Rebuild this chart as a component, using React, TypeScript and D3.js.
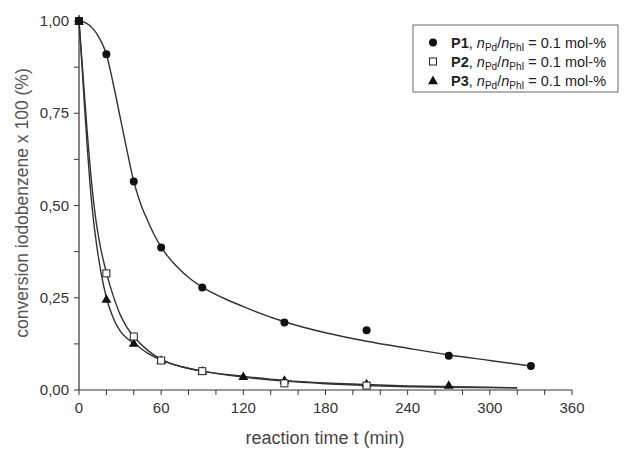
import React from "react";
import * as d3 from "d3";

// ---- measured data points ----
const p1Time = [0, 20, 40, 60, 90, 150, 210, 270, 330];
const p1Conv = [1.0, 0.91, 0.565, 0.386, 0.278, 0.183, 0.162, 0.093, 0.065];

const p2Time = [0, 20, 40, 60, 90, 150, 210];
const p2Conv = [1.0, 0.316, 0.145, 0.08, 0.051, 0.018, 0.012];

const p3Time = [0, 20, 40, 60, 90, 120, 150, 210, 270];
const p3Conv = [1.0, 0.246, 0.127, 0.081, 0.052, 0.037, 0.027, 0.017, 0.013];

// ---- fitted curves ----
const fit1Time = [0, 5, 10, 15, 20, 25, 30, 35, 40, 45, 50, 55, 60, 70, 80, 90, 105, 120, 150, 180, 210, 240, 270, 300, 330];
const fit1Conv = [1.0, 0.995, 0.98, 0.953, 0.91, 0.83, 0.74, 0.65, 0.565, 0.505, 0.46, 0.42, 0.387, 0.34, 0.305, 0.279, 0.25, 0.226, 0.185, 0.155, 0.132, 0.113, 0.095, 0.08, 0.065];

const fit2Time = [0, 3, 6, 9, 12, 15, 20, 25, 30, 35, 40, 50, 60, 75, 90, 120, 150, 180, 210, 240, 270, 320];
const fit2Conv = [1.0, 0.85, 0.7, 0.57, 0.47, 0.4, 0.318, 0.255, 0.205, 0.17, 0.145, 0.108, 0.083, 0.063, 0.051, 0.035, 0.024, 0.017, 0.012, 0.009, 0.0075, 0.006];

const fit3Time = [0, 2, 4, 6, 8, 10, 13, 16, 20, 25, 30, 35, 40, 50, 60, 75, 90, 120, 150, 180, 210, 240, 270, 320];
const fit3Conv = [1.0, 0.89, 0.77, 0.66, 0.56, 0.48, 0.39, 0.32, 0.25, 0.195, 0.16, 0.14, 0.127, 0.1, 0.081, 0.063, 0.051, 0.037, 0.026, 0.019, 0.015, 0.011, 0.009, 0.006];

const xTickValues = [0, 60, 120, 180, 240, 300, 360];
const yTickValues = [0, 0.25, 0.5, 0.75, 1.0];

const xTitle = "reaction time t (min)";
const yTitle = "conversion iodobenzene x 100 (%)";
const legendNames = ["P1", "P2", "P3"];

const W = 631;
const H = 450;
const axisColor = "#333";
const textColor = "#333";
const font = "Liberation Sans, Arial, sans-serif";

export default function App() {
  const x = d3.scaleLinear().domain([0, 360]).range([79, 572]);
  const y = d3.scaleLinear().domain([0, 1]).range([390, 21]);

  const line = d3
    .line<[number, number]>()
    .x((d) => x(d[0]))
    .y((d) => y(d[1]))
    .curve(d3.curveMonotoneX);

  const zip = (a: number[], b: number[]) => a.map((t, i) => [t, b[i]] as [number, number]);

  const minorX = d3.range(0, 361, 20);
  const minorY = d3.range(0, 1.0001, 0.125);
  const fmt = (v: number) => v.toFixed(2).replace(".", ",");

  const tri = d3.symbol().type(d3.symbolTriangle).size(42)() as string;

  const legendRowsY = [43, 62, 81];
  const legendX = 433;

  const marker = (k: number, cx: number, cy: number, key: string) => {
    if (k === 0) return <circle key={key} cx={cx} cy={cy} r={4} fill="#111" />;
    if (k === 1)
      return <rect key={key} x={cx - 3.5} y={cy - 3.5} width={7} height={7} fill="#fff" stroke="#222" strokeWidth={1} />;
    return <path key={key} d={tri} transform={`translate(${cx},${cy + 0.8})`} fill="#111" />;
  };

  return (
    <svg
      width={W}
      height={H}
      style={{ position: "absolute", left: 0, top: 0, background: "#fff" }}
      fontFamily={font}
    >
      <rect x={0} y={0} width={W} height={H} fill="#fff" />
      {/* axes */}
      <line x1={x(0)} x2={x(360)} y1={y(0)} y2={y(0)} stroke={axisColor} strokeWidth={1.2} />
      <line x1={x(0)} x2={x(0)} y1={y(0)} y2={y(1) - 6} stroke={axisColor} strokeWidth={1.2} />
      {minorX.map((t) => (
        <line key={"xt" + t} x1={x(t)} x2={x(t)} y1={y(0)} y2={y(0) + 5} stroke={axisColor} strokeWidth={1} />
      ))}
      {minorY.map((v) => (
        <line key={"yt" + v} x1={x(0) - 5} x2={x(0)} y1={y(v)} y2={y(v)} stroke={axisColor} strokeWidth={1} />
      ))}
      {xTickValues.map((t) => (
        <text key={"xl" + t} x={x(t)} y={413} textAnchor="middle" fontSize={15} fill={textColor}>
          {t}
        </text>
      ))}
      {yTickValues.map((v) => (
        <text key={"yl" + v} x={69} y={y(v) + 5} textAnchor="end" fontSize={15} fill={textColor}>
          {fmt(v)}
        </text>
      ))}
      <text x={325} y={444} textAnchor="middle" fontSize={18} fill="#444">
        {xTitle}
      </text>
      <text
        transform={`translate(28,203) rotate(-90)`}
        textAnchor="middle"
        fontSize={17.5}
        fill="#555"
      >
        {yTitle}
      </text>

      {/* fitted curves */}
      <path d={line(zip(fit2Time, fit2Conv)) || ""} fill="none" stroke="#333" strokeWidth={1.4} />
      <path d={line(zip(fit3Time, fit3Conv)) || ""} fill="none" stroke="#333" strokeWidth={1.4} />
      <path d={line(zip(fit1Time, fit1Conv)) || ""} fill="none" stroke="#333" strokeWidth={1.4} />

      {/* points */}
      {p3Time.map((t, i) => marker(2, x(t), y(p3Conv[i]), "p3" + i))}
      {p2Time.map((t, i) => marker(1, x(t), y(p2Conv[i]), "p2" + i))}
      {p1Time.map((t, i) => marker(0, x(t), y(p1Conv[i]), "p1" + i))}

      {/* legend */}
      <rect x={413} y={25} width={205} height={67} fill="#fff" stroke="#666" strokeWidth={1} />
      {legendNames.map((name, k) => (
        <g key={"lg" + k}>
          {marker(k, legendX, legendRowsY[k] - 0.5, "lm" + k)}
          <text x={451} y={legendRowsY[k] + 5} fontSize={14.5} fill="#222">
            <tspan fontWeight="bold">{name}</tspan>
            <tspan>, </tspan>
            <tspan fontStyle="italic">n</tspan>
            <tspan fontSize={10} dy={3}>Pd</tspan>
            <tspan dy={-3}>/</tspan>
            <tspan fontStyle="italic">n</tspan>
            <tspan fontSize={10} dy={3}>PhI</tspan>
            <tspan dy={-3}> = 0.1 mol-%</tspan>
          </text>
        </g>
      ))}
    </svg>
  );
}
